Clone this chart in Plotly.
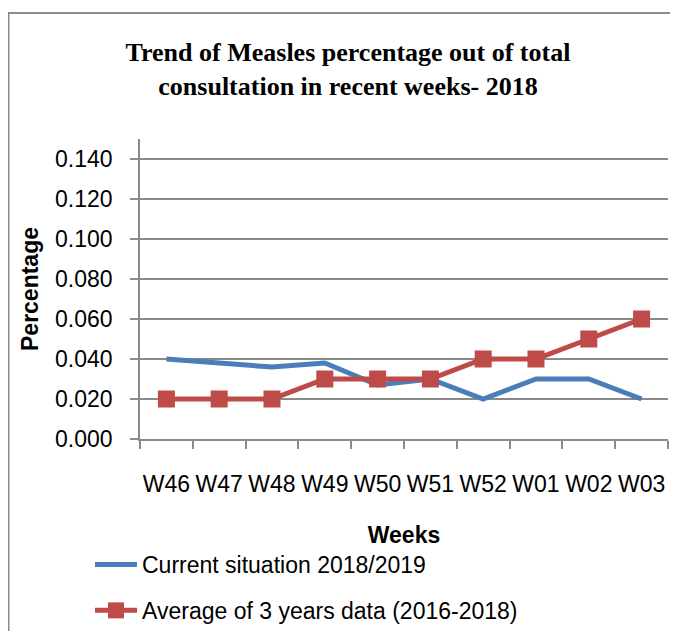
import plotly.graph_objects as go

weeks = ["W46", "W47", "W48", "W49", "W50", "W51", "W52", "W01", "W02", "W03"]
current = [0.040, 0.038, 0.036, 0.038, 0.027, 0.030, 0.020, 0.030, 0.030, 0.020]
average = [0.020, 0.020, 0.020, 0.030, 0.030, 0.030, 0.040, 0.040, 0.050, 0.060]
y_ticks = [0.0, 0.02, 0.04, 0.06, 0.08, 0.10, 0.12, 0.14]

BLUE = "#4A7EBB"
RED = "#BE4B48"
GRID = "#8A8A8A"
FONT = "Liberation Sans"

W, H = 678, 660  # page is photographed at 678x631; extra height lies off-screen
OFF = 8  # page body margin offset
PL, PR, PT, PB = 140 - OFF, 668 - OFF, 139 - OFF, 439 - OFF  # plot area in figure px
pw, ph = PR - PL, PB - PT

fig = go.Figure()
fig.add_trace(go.Scatter(
    x=weeks, y=current, mode="lines", name="Current situation 2018/2019",
    line=dict(color=BLUE, width=5), legendgroup="a"))
fig.add_trace(go.Scatter(
    x=weeks, y=average, mode="lines+markers", name="Average of 3 years data (2016-2018)",
    line=dict(color=RED, width=5),
    marker=dict(symbol="square", size=17, color=RED, line=dict(width=0)),
    legendgroup="b"))

fig.update_layout(
    width=W, height=H,
    margin=dict(l=PL, r=W - PR, t=PT, b=H - PB),
    paper_bgcolor="white", plot_bgcolor="white",
    title=dict(
        text="<b>Trend of Measles percentage out of total<br>consultation in recent weeks- 2018</b>",
        x=(348 - OFF) / W, xanchor="center", y=1 - 53 / H, yanchor="middle",
        font=dict(family="Liberation Serif", size=26, color="black")),
    font=dict(family=FONT, color="black"),
    showlegend=True,
    legend=dict(
        x=(90 - OFF - PL) / pw, xanchor="left",
        y=(PB - (543 - OFF)) / ph, yanchor="top",
        font=dict(family=FONT, size=23, color="black"),
        traceorder="grouped", tracegroupgap=13,
        itemwidth=42, bgcolor="rgba(0,0,0,0)"),
    xaxis=dict(
        type="category", range=[-0.5, 9.5], automargin=False,
        showgrid=False, showline=True, linecolor=GRID, linewidth=1.5,
        ticks="outside", ticklen=8, tickcolor=GRID, tickwidth=1.5,
        tickson="boundaries", ticklabelstandoff=24, tickangle=0,
        tickfont=dict(family=FONT, size=23, color="black"),
        title=dict(text="<b>Weeks</b>", font=dict(family=FONT, size=23, color="black"), standoff=31),
    ),
    yaxis=dict(
        range=[0, 0.15], tickvals=y_ticks, tickformat=".3f", automargin=False,
        showgrid=True, gridcolor=GRID, gridwidth=1.5,
        showline=True, linecolor=GRID, linewidth=1.5,
        ticks="outside", ticklen=8, tickcolor=GRID, tickwidth=1.5,
        ticklabelstandoff=13,
        zeroline=False,
        tickfont=dict(family=FONT, size=23, color="black"),
        title=dict(text="<b>Percentage</b>", font=dict(family=FONT, size=23, color="black"), standoff=10),
    ),
)

# outer chart-area border
fig.add_shape(type="rect", xref="paper", yref="paper",
              x0=(0.5 - PL) / pw, x1=(W + 20 - PL) / pw,
              y0=(PB - H - 20) / ph, y1=(PB - 5) / ph,
              line=dict(color="#8C8C8C", width=2), layer="below")

fig.write_html("out.html")
